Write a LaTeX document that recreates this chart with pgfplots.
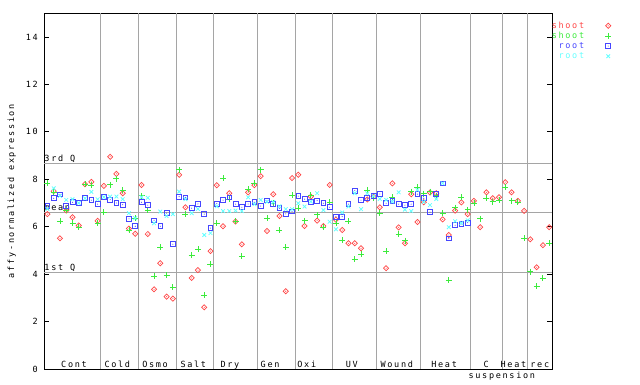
\documentclass[border=0pt]{standalone}
\usepackage{fontspec}
\usepackage{pgfplots}
\pgfplotsset{compat=1.18}
\usepackage{pgfplotstable}
\newfontfamily\mono[LetterSpace=20]{DejaVu Sans Mono}
\newcommand\mf{\mono\fontsize{8.5}{10}\selectfont}
\definecolor{cred}{RGB}{255,70,70}
\definecolor{cgreen}{RGB}{60,235,60}
\definecolor{cblue}{RGB}{70,70,255}
\definecolor{ccyan}{RGB}{100,255,255}
\definecolor{gridg}{RGB}{165,165,165}
\pgfdeclareplotmark{ddiamond}{%
  \pgfpathmoveto{\pgfqpoint{0pt}{\pgfplotmarksize}}%
  \pgfpathlineto{\pgfqpoint{\pgfplotmarksize}{0pt}}%
  \pgfpathlineto{\pgfqpoint{0pt}{-\pgfplotmarksize}}%
  \pgfpathlineto{\pgfqpoint{-\pgfplotmarksize}{0pt}}%
  \pgfpathclose
  \pgfusepathqstroke
  \pgfpathcircle{\pgfpointorigin}{0.55pt}%
  \pgfusepathqfill
}
\pgfdeclareplotmark{dsquare}{%
  \pgfpathrectangle{\pgfqpoint{-\pgfplotmarksize}{-\pgfplotmarksize}}{\pgfqpoint{2\pgfplotmarksize}{2\pgfplotmarksize}}%
  \pgfusepathqstroke
  \pgfpathcircle{\pgfpointorigin}{0.55pt}%
  \pgfusepathqfill
}
\pgfplotstableread{
x r g b c
0.5 6.53 7.83 6.89 6.75
1.5 7.50 7.45 7.20 7.62
2.5 5.51 6.24 7.36 7.30
3.5 6.68 6.70 6.87 7.13
4.5 6.40 6.16 7.03 7.16
5.5 6.05 5.97 7.00 7.00
6.5 7.79 7.79 7.20 7.20
7.5 7.89 7.76 7.12 7.47
8.5 6.25 6.16 6.95 7.16
9.5 7.72 6.62 7.27 7.25
10.5 8.95 7.77 7.14 7.27
11.5 8.23 8.03 7.00 7.27
12.5 7.41 7.55 6.93 7.16
13.5 5.92 5.86 6.33 6.57
14.5 5.70 6.36 6.02 6.36
15.5 7.76 7.30 7.03 7.25
16.5 5.69 6.70 6.91 7.22
17.5 3.36 3.92 6.27 6.15
18.5 4.46 5.13 6.02 6.64
19.5 3.05 3.95 6.57 6.45
20.5 2.97 3.45 5.26 6.53
21.5 8.19 8.40 7.27 7.48
22.5 6.82 6.54 7.24 7.16
23.5 3.84 4.80 6.78 6.57
24.5 4.17 5.05 6.96 6.75
25.5 2.60 3.11 6.53 5.65
26.5 4.97 4.42 5.94 5.73
27.5 7.75 6.15 6.97 6.86
28.5 6.02 8.05 7.12 6.66
29.5 7.41 7.15 7.24 6.66
30.5 6.22 6.24 6.95 6.68
31.5 5.26 4.76 6.82 6.66
32.5 7.45 7.58 6.96 7.24
33.5 7.75 7.83 7.03 6.95
34.5 8.13 8.40 6.87 7.13
35.5 5.82 6.36 7.11 7.05
36.5 7.37 7.00 6.95 7.04
37.5 6.45 5.86 6.78 6.86
38.5 3.28 5.13 6.54 6.74
39.5 8.05 7.33 6.65 6.74
40.5 8.19 6.78 7.29 6.99
41.5 6.03 6.26 7.16 6.85
42.5 7.27 7.33 7.06 7.06
43.5 6.26 6.50 7.10 7.41
44.5 6.03 5.98 6.99 6.70
45.5 7.76 7.03 6.82 6.21
46.5 6.30 6.15 6.43 5.89
47.5 5.86 5.44 6.43 6.60
48.5 5.30 6.24 6.95 6.85
49.5 5.30 4.63 7.52 7.41
50.5 5.09 4.84 7.12 6.74
51.5 7.15 7.55 7.20 7.41
52.5 7.27 7.20 7.30 7.30
53.5 6.82 6.57 7.38 7.17
54.5 4.25 4.97 6.99 7.13
55.5 7.83 7.25 7.08 7.06
56.5 5.97 5.68 6.95 7.45
57.5 5.30 5.41 6.91 6.72
58.5 7.37 7.48 6.95 6.66
59.5 6.20 7.67 7.37 7.55
60.5 7.03 7.40 7.20 7.05
61.5 7.44 7.48 6.61 6.91
62.5 7.41 7.30 7.37 7.17
63.5 6.31 6.57 7.83 7.83
64.5 5.65 3.75 5.51 5.98
65.5 6.68 6.81 6.06 6.23
66.5 7.03 7.24 6.12 6.15
67.5 6.53 6.71 6.17 6.27
68.5 7.09 6.99 nan nan
69.5 5.98 6.33 nan nan
70.5 7.45 7.20 nan nan
71.5 7.20 7.06 nan nan
72.5 7.24 7.13 nan nan
73.5 7.88 7.66 nan nan
74.5 7.45 7.10 nan nan
75.5 7.09 7.03 nan nan
76.5 6.67 5.51 nan nan
77.5 5.47 4.11 nan nan
78.5 4.29 3.50 nan nan
79.5 5.22 3.84 nan nan
80.5 5.98 5.30 nan nan
}\data
\begin{document}
\begin{tikzpicture}
\begin{axis}[
  scale only axis, width=508pt, height=355.7pt,
  xmin=0, xmax=81, ymin=0, ymax=15,
  xtick=\empty, ytick={0,2,...,14},
  tick align=inside, major tick length=5pt,
  ytick pos=both, yticklabel pos=left,
  tick style={black, line width=0.8pt},
  axis line style={black, line width=0.8pt},
  /pgf/number format/assume math mode=true,
  yticklabel style={font=\mf, xshift=-3pt},
  clip=false,
  legend plot pos=right,
  legend cell align=right,
  legend style={at={(rel axis cs:1,1)}, anchor=north west, draw=none, fill=none,
    inner sep=0pt, outer sep=0pt, xshift=-1pt, yshift=-8pt, font=\mf,
    nodes={inner sep=0.5pt}, row sep=1.2pt,
    /tikz/every odd column/.append style={column sep=20.5pt}},
]
\pgfplotsinvokeforeach{9,15,21,27,34,40,46,53,60,68,73,77}{\draw[gridg, line width=0.8pt] (axis cs:#1,0) -- (axis cs:#1,15);}
\pgfplotsinvokeforeach{8.68,6.61,4.08}{\draw[gridg, line width=0.8pt] (axis cs:0,#1) -- (axis cs:81,#1);}
\addplot[only marks, mark=ddiamond, mark size=2.6pt, color=cred, line width=0.7pt] table[x=x,y=r]{\data};
\addlegendentry{\textcolor{cred}{\vphantom{h}shoot}}
\addplot[only marks, mark=+, mark size=3pt, color=cgreen, line width=0.8pt] table[x=x,y=g]{\data};
\addlegendentry{\textcolor{cgreen}{\vphantom{h}shoot}}
\addplot[only marks, mark=dsquare, mark size=2.4pt, color=cblue, line width=0.8pt] table[x=x,y=b]{\data};
\addlegendentry{\textcolor{cblue}{\vphantom{h}root}}
\addplot[only marks, mark=x, mark size=2.6pt, color=ccyan, line width=0.8pt] table[x=x,y=c]{\data};
\addlegendentry{\textcolor{ccyan}{\vphantom{h}root}}
\node[font=\mf, anchor=base west, inner sep=0pt, yshift=1.5pt] at (axis cs:0,8.68) {3rd Q};
\node[font=\mf, anchor=base west, inner sep=0pt, yshift=1.5pt] at (axis cs:0,6.61) {mean};
\node[font=\mf, anchor=base west, inner sep=0pt, yshift=1.5pt] at (axis cs:0,4.08) {1st Q};
\node[font=\mf, anchor=base, inner sep=0pt] at (axis cs:4.74,0.07) {Cont};
\node[font=\mf, anchor=base, inner sep=0pt] at (axis cs:11.64,0.07) {Cold};
\node[font=\mf, anchor=base, inner sep=0pt] at (axis cs:17.66,0.07) {Osmo};
\node[font=\mf, anchor=base, inner sep=0pt] at (axis cs:23.76,0.07) {Salt};
\node[font=\mf, anchor=base, inner sep=0pt] at (axis cs:29.6,0.07) {Dry};
\node[font=\mf, anchor=base, inner sep=0pt] at (axis cs:36.0,0.07) {Gen};
\node[font=\mf, anchor=base, inner sep=0pt] at (axis cs:41.85,0.07) {Oxi};
\node[font=\mf, anchor=base, inner sep=0pt] at (axis cs:49.03,0.07) {UV};
\node[font=\mf, anchor=base, inner sep=0pt] at (axis cs:56.2,0.07) {Wound};
\node[font=\mf, anchor=base, inner sep=0pt] at (axis cs:63.75,0.07) {Heat};
\node[font=\mf, anchor=base, inner sep=0pt] at (axis cs:70.45,0.07) {C};
\node[font=\mf, anchor=base, inner sep=0pt] at (axis cs:74.8,0.07) {Heat};
\node[font=\mf, anchor=base, inner sep=0pt] at (axis cs:79.0,0.07) {rec};
\node[font=\mf, anchor=base, inner sep=0pt] at (axis cs:72.95,-0.42) {suspension};
\node[font=\mf, rotate=90, anchor=center, inner sep=0pt] at ([xshift=-32.6pt]rel axis cs:0,0.5) {affy-normalized expression};
\coordinate (bl) at (rel axis cs:0,0);
\coordinate (tr) at (rel axis cs:1,1);
\end{axis}
\path ([xshift=-44.3pt,yshift=-15pt]bl) rectangle ([xshift=87.7pt,yshift=13.3pt]tr);
\end{tikzpicture}
\end{document}
